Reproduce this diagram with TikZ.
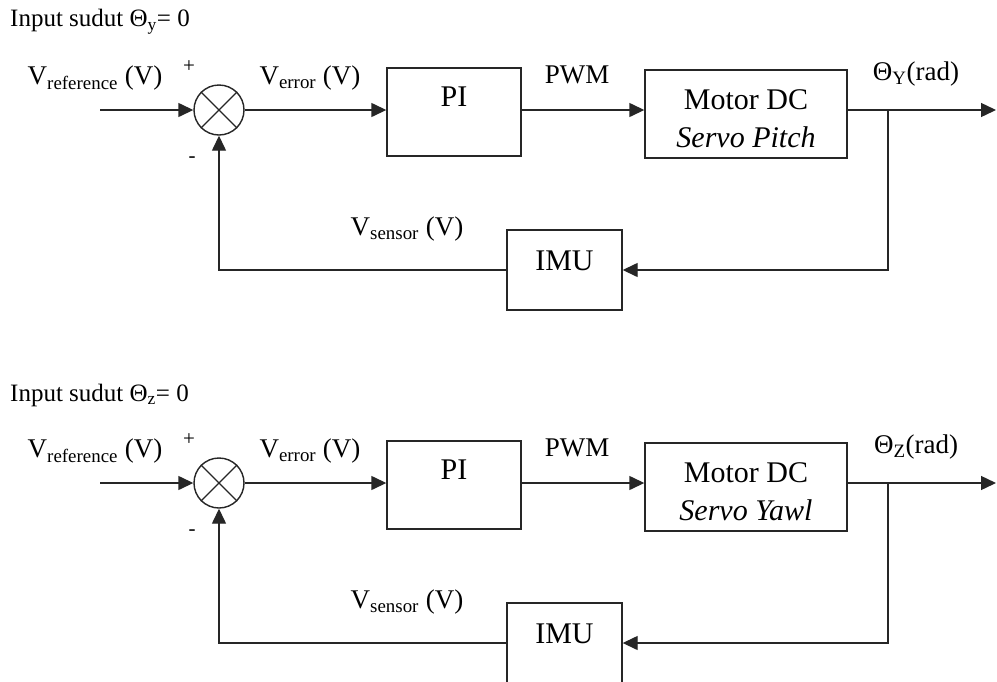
\documentclass[tikz,border=0pt]{standalone}
\usepackage{fontspec}
\setmainfont{Liberation Serif}
\usetikzlibrary{arrows.meta}
\tikzset{
  wire/.style={line width=1.4pt, draw=black!85},
  arr/.style={wire, -{Triangle[length=15pt,width=14pt]}},
  blockbox/.style={draw=black!85, line width=1.4pt, rectangle, inner sep=0pt},
  sumnode/.style={draw=black!85, line width=1.4pt, circle, inner sep=0pt, minimum size=50pt},
  lbl/.style={inner sep=0pt, font=\fontsize{27}{30}\selectfont},
  blocktxt/.style={inner sep=0pt, font=\fontsize{30}{33}\selectfont},
  inlbl/.style={inner sep=0pt, font=\fontsize{25}{28}\selectfont},
  signlbl/.style={inner sep=0pt, font=\fontsize{21}{23}\selectfont},
}
\newcommand\blockdiag[5]{%
  \begin{scope}[yshift=-#2pt]
    \node[inlbl, anchor=west] (#1title) at (10,22) {Input sudut Θ\textsubscript{#3}= 0};
    \coordinate (#1in) at (100,110);
    \node[sumnode] (#1sum) at (219,110) {};
    \draw[wire] (#1sum.45) -- (#1sum.225) (#1sum.135) -- (#1sum.315);
    \node[blockbox, minimum width=134pt, minimum height=88pt] (#1pi) at (454,112) {};
    \node[blockbox, minimum width=202pt, minimum height=88pt] (#1mot) at (746,114) {};
    \node[blockbox, minimum width=115pt, minimum height=80pt] (#1imu) at (564.5,270) {};
    \coordinate (#1br) at (888,110);
    \coordinate (#1out) at (996,110);
    \node[lbl] (#1vref) at (95,78) {V\textsubscript{reference} (V)};
    \node[signlbl] (#1plus) at (189,67) {+};
    \node[signlbl] (#1minus) at (192,160) {-};
    \node[lbl] (#1verr) at (310,78) {V\textsubscript{error} (V)};
    \node[blocktxt] (#1pitxt) at (454,97) {PI};
    \node[lbl] (#1pwm) at (577,75) {PWM};
    \node[blocktxt] (#1motA) at (746,100) {Motor DC};
    \node[blocktxt] (#1motB) at (746,137) {\textit{Servo #5}};
    \node[lbl] (#1theta) at (916,74) {Θ\textsubscript{#4}(rad)};
    \node[lbl] (#1vsen) at (407,229) {V\textsubscript{sensor} (V)};
    \node[blocktxt] (#1imutxt) at (564.5,261) {IMU};
    \draw[arr] (#1in) -- (#1sum);
    \draw[arr] (#1sum) -- (#1pi.west |- #1sum);
    \draw[arr] (#1pi.east |- #1sum) -- (#1mot.west |- #1sum);
    \draw[wire] (#1mot.east |- #1sum) -- (#1br);
    \draw[arr] (#1br) -- (#1out);
    \draw[arr] (#1br) |- (#1imu);
    \draw[arr] (#1imu) -| (#1sum);
  \end{scope}
}
\begin{document}
\begin{tikzpicture}[x=1pt, y=-1pt]
  \clip (0,0) rectangle (997,681);
  \fill[white] (0,0) rectangle (997,681);
  \blockdiag{a}{0}{y}{Y}{Pitch}
  \blockdiag{b}{373}{z}{Z}{Yawl}
\end{tikzpicture}
\end{document}
